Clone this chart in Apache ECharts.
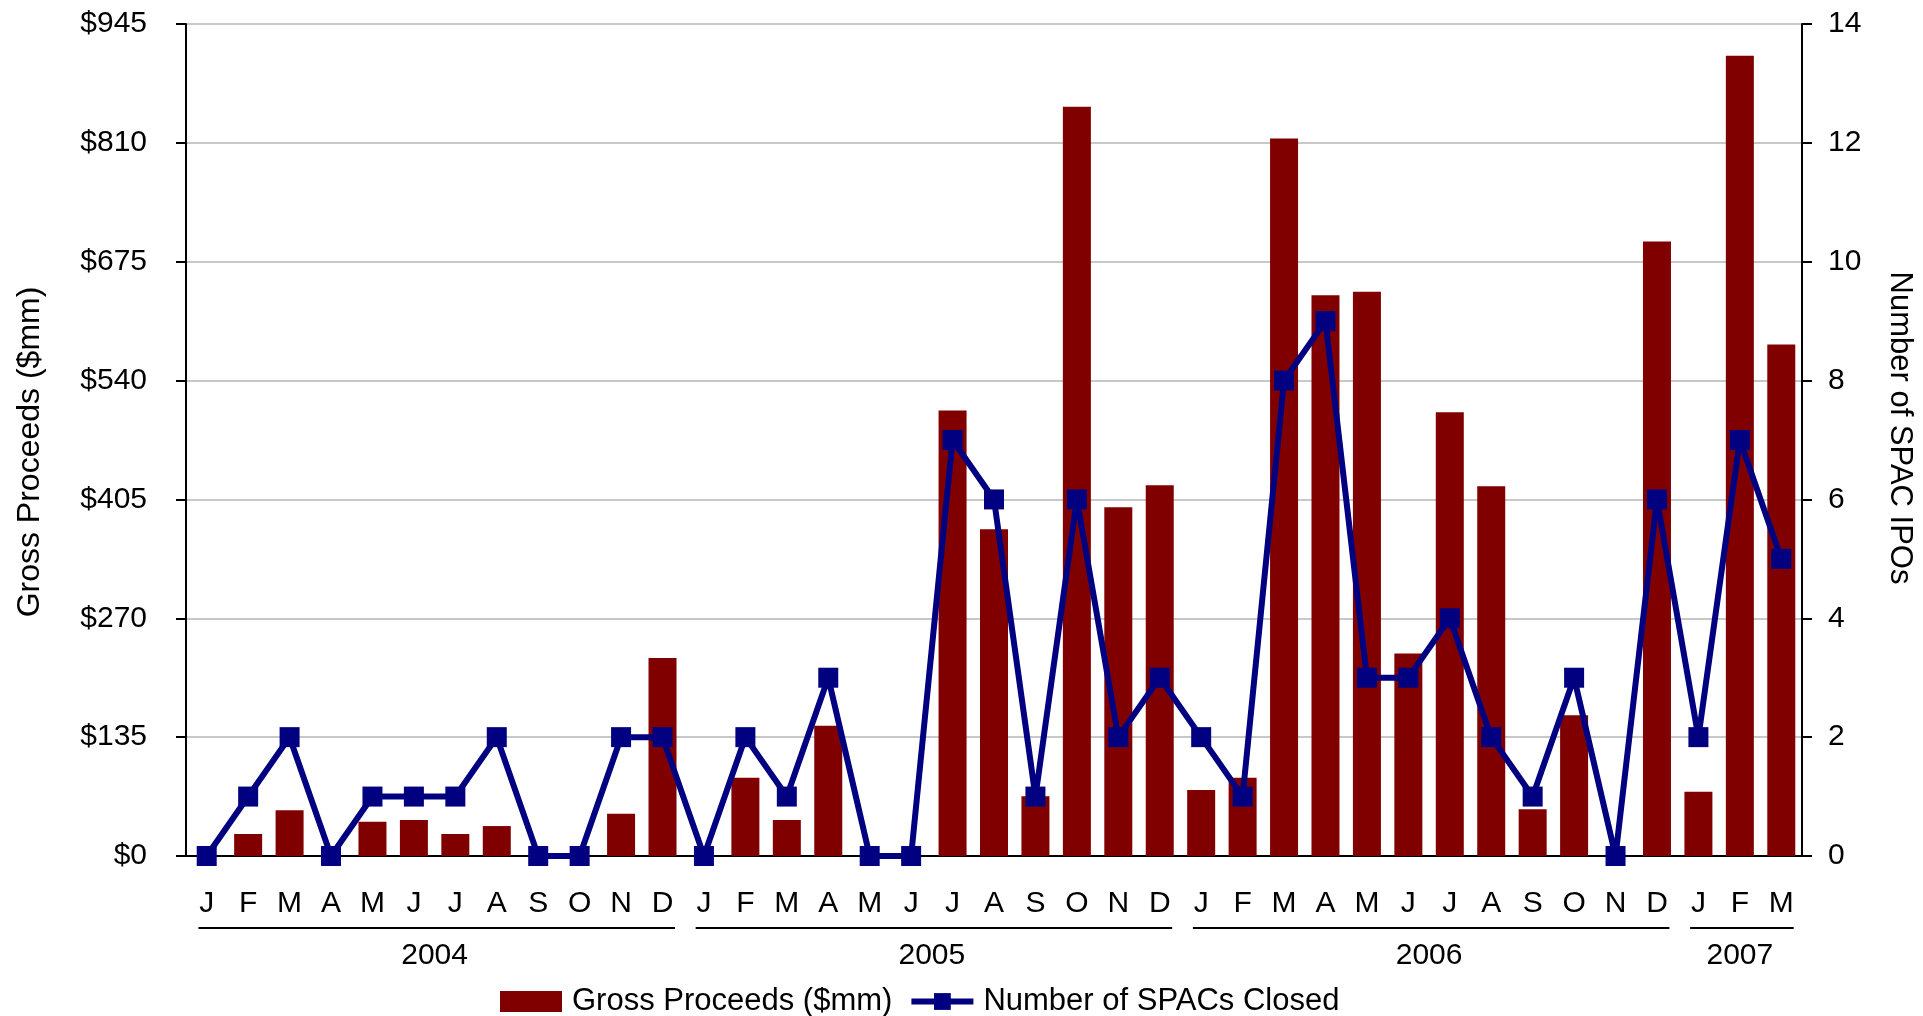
<!DOCTYPE html>
<html>
<head>
<meta charset="utf-8">
<script src="https://cdn.jsdelivr.net/npm/echarts@6/dist/echarts.min.js"></script>
<style>
  html, body { margin: 0; padding: 0; background: #fff; }
  #chart { width: 1923px; height: 1016px; }
</style>
</head>
<body>
<div id="chart"></div>
<script>
const myChart = echarts.init(document.getElementById("chart"));

// months Jan 2004 .. Mar 2007
const months = [
  "2004-01", "2004-02", "2004-03", "2004-04", "2004-05", "2004-06", "2004-07", "2004-08", "2004-09", "2004-10", "2004-11", "2004-12",
  "2005-01", "2005-02", "2005-03", "2005-04", "2005-05", "2005-06", "2005-07", "2005-08", "2005-09", "2005-10", "2005-11", "2005-12",
  "2006-01", "2006-02", "2006-03", "2006-04", "2006-05", "2006-06", "2006-07", "2006-08", "2006-09", "2006-10", "2006-11", "2006-12",
  "2007-01", "2007-02", "2007-03"
];
const monthLetters = [
  "J", "F", "M", "A", "M", "J", "J", "A", "S", "O", "N", "D",
  "J", "F", "M", "A", "M", "J", "J", "A", "S", "O", "N", "D",
  "J", "F", "M", "A", "M", "J", "J", "A", "S", "O", "N", "D",
  "J", "F", "M"
];
const years = ["2004", "2005", "2006", "2007"];
const yearFirst = [0, 12, 24, 36];
const yearLast = [11, 23, 35, 38];

// gross proceeds ($mm)
const proceeds = [
  0, 25, 52, 0, 39, 41, 25, 34, 0, 0, 48, 225,
  0, 89, 41, 148, 0, 0, 506, 371, 68, 851, 396, 421,
  75, 89, 815, 637, 641, 230, 504, 420, 53, 160, 0, 698,
  73, 909, 581
];
// number of SPACs closed
const spacs = [
  0, 1, 2, 0, 1, 1, 1, 2, 0, 0, 2, 2,
  0, 2, 1, 3, 0, 0, 7, 6, 1, 6, 2, 3,
  2, 1, 8, 9, 3, 3, 4, 2, 1, 3, 0, 6,
  2, 7, 5
];

const FONT = '"Liberation Sans", Arial, sans-serif';

let option = {
  animation: false,
  textStyle: { fontFamily: FONT, color: "#000" },
  grid: { left: 186, right: 121, top: 24, bottom: 160 },
  legend: {
    left: 495,
    top: 981,
    itemWidth: 62,
    itemHeight: 21,
    itemGap: 16,
    textStyle: { fontFamily: FONT, fontSize: 31, color: "#000", padding: [0, 0, 0, 5] },
    data: [
      { name: "Gross Proceeds ($mm)", icon: "rect" },
      { name: "Number of SPACs Closed", lineStyle: { width: 6, color: "#000080" } }
    ]
  },
  xAxis: {
    type: "category",
    data: months,
    axisLine: { lineStyle: { color: "#000", width: 2 } },
    axisTick: { interval: 0, length: 10, lineStyle: { color: "#000", width: 2 } },
    axisLabel: {
      interval: 0,
      margin: 33,
      fontSize: 30,
      color: "#000",
      fontFamily: FONT,
      formatter: (v, i) => monthLetters[i]
    }
  },
  yAxis: [{
      type: "value",
      min: 0,
      max: 945,
      interval: 135,
      name: "Gross Proceeds ($mm)",
      nameLocation: "middle",
      nameGap: 140,
      nameRotate: 90,
      nameTextStyle: { fontSize: 32, color: "#000", fontFamily: FONT, padding: [0, 0, 0, -24] },
      axisLine: { show: true, lineStyle: { color: "#000", width: 2 } },
      axisTick: { show: true, length: 10, lineStyle: { color: "#000", width: 2 } },
      axisLabel: { margin: 39, fontSize: 30, color: "#000", fontFamily: FONT, formatter: "${value}" },
      splitLine: { lineStyle: { color: "#c8c8c8", width: 2 } }
    },
    {
      type: "value",
      min: 0,
      max: 14,
      interval: 2,
      name: "Number of SPAC IPOs",
      nameLocation: "middle",
      nameGap: 82,
      nameRotate: -90,
      nameTextStyle: { fontSize: 31, color: "#000", fontFamily: FONT, padding: [0, 24, 0, 0] },
      axisLine: { show: true, lineStyle: { color: "#000", width: 2 } },
      axisTick: { show: true, length: 10, lineStyle: { color: "#000", width: 2 } },
      axisLabel: { margin: 26, fontSize: 30, color: "#000", fontFamily: FONT },
      splitLine: { show: false }
    }
  ],
  series: [{
      name: "Gross Proceeds ($mm)",
      type: "bar",
      data: proceeds,
      barWidth: 28,
      itemStyle: { color: "#800000" }
    },
    {
      name: "Number of SPACs Closed",
      type: "line",
      yAxisIndex: 1,
      data: spacs,
      symbol: "rect",
      symbolSize: 20,
      lineStyle: { color: "#000080", width: 6 },
      itemStyle: { color: "#000080" },
      z: 5
    },
    {
      // year brackets under the month letters
      name: "years",
      type: "custom",
      silent: true,
      clip: false,
      data: years.map((y, i) => [yearFirst[i], yearLast[i]]),
      renderItem: function (params, api) {
        const s = api.coord([api.value(0), 0]);
        const e = api.coord([api.value(1), 0]);
        const bw = api.size([1, 0])[0];
        const y = s[1];
        return {
          type: "group",
          children: [{
              type: "line",
              shape: { x1: s[0] - 0.2 * bw, y1: y + 72, x2: e[0] + 0.3 * bw, y2: y + 72 },
              style: { stroke: "#000", lineWidth: 2 }
            },
            {
              type: "text",
              style: {
                text: years[params.dataIndex],
                x: (s[0] + e[0]) / 2,
                y: y + 100,
                align: "center",
                verticalAlign: "middle",
                fontSize: 30,
                fontFamily: FONT,
                fill: "#000"
              }
            }
          ]
        };
      }
    }
  ]
};

myChart.setOption(option);
</script>
</body>
</html>
